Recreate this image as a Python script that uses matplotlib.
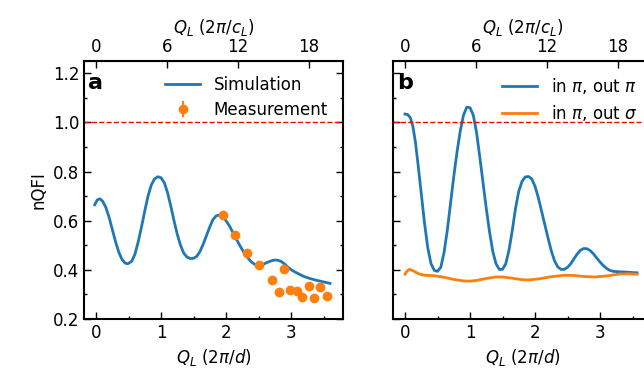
import matplotlib
matplotlib.use('Agg')
import matplotlib.pyplot as plt
from matplotlib.ticker import MultipleLocator

BLUE = '#1f77b4'
ORANGE = '#ff7f0e'
C_RATIO = 5.5   # c_L / d, top axis in units of 2pi/c_L

# panel a: simulation curve (Q_L in 2pi/d, nQFI)
sim_q = [-0.02, 0.02, 0.06, 0.10, 0.15, 0.20, 0.25, 0.30, 0.35, 0.40, 0.45, 0.49,
         0.55, 0.60, 0.65, 0.70, 0.75, 0.80, 0.85, 0.90, 0.95, 1.00, 1.05, 1.10,
         1.15, 1.20, 1.25, 1.30, 1.35, 1.40, 1.45, 1.50, 1.55, 1.60, 1.65, 1.70,
         1.75, 1.80, 1.85, 1.90, 1.95, 2.00, 2.05, 2.10, 2.15, 2.20, 2.25, 2.30,
         2.35, 2.40, 2.45, 2.50, 2.55, 2.60, 2.65, 2.70, 2.75, 2.80, 2.85, 2.90,
         2.95, 3.00, 3.05, 3.10, 3.20, 3.30, 3.40, 3.50, 3.60]
sim_f = [0.665, 0.685, 0.689, 0.680, 0.655, 0.615, 0.565, 0.515, 0.472, 0.442, 0.427, 0.425,
         0.435, 0.465, 0.515, 0.575, 0.640, 0.700, 0.745, 0.770, 0.779, 0.775, 0.755, 0.715,
         0.660, 0.600, 0.545, 0.500, 0.468, 0.452, 0.446, 0.447, 0.455, 0.475, 0.505, 0.540,
         0.575, 0.605, 0.620, 0.623, 0.615, 0.600, 0.580, 0.555, 0.530, 0.505, 0.482, 0.462,
         0.444, 0.430, 0.421, 0.418, 0.421, 0.426, 0.432, 0.437, 0.440, 0.439, 0.434, 0.424,
         0.412, 0.401, 0.393, 0.386, 0.373, 0.364, 0.357, 0.351, 0.345]

# panel a: measured points
meas_q = [1.96, 2.14, 2.33, 2.51, 2.70, 2.81, 2.89, 2.98, 3.09, 3.17, 3.27, 3.36, 3.45, 3.55]
meas_f = [0.622, 0.541, 0.467, 0.419, 0.357, 0.308, 0.404, 0.319, 0.312, 0.290, 0.335, 0.284, 0.330, 0.294]
meas_err = [0.01] * 14

# panel b: in pi, out pi
pp_q = [0.00, 0.04, 0.08, 0.12, 0.16, 0.20, 0.25, 0.30, 0.35, 0.40, 0.45, 0.50,
        0.55, 0.60, 0.65, 0.70, 0.75, 0.80, 0.85, 0.90, 0.95, 1.00, 1.05, 1.10,
        1.15, 1.20, 1.25, 1.30, 1.35, 1.40, 1.45, 1.50, 1.55, 1.60, 1.65, 1.70,
        1.75, 1.80, 1.85, 1.90, 1.95, 2.00, 2.05, 2.10, 2.15, 2.20, 2.25, 2.30,
        2.35, 2.40, 2.45, 2.50, 2.55, 2.60, 2.65, 2.70, 2.75, 2.80, 2.85, 2.90,
        2.95, 3.00, 3.05, 3.10, 3.15, 3.20, 3.30, 3.40, 3.50, 3.57]
pp_f = [1.034, 1.032, 1.020, 0.985, 0.920, 0.830, 0.710, 0.590, 0.490, 0.425, 0.398, 0.394,
        0.410, 0.470, 0.560, 0.670, 0.780, 0.880, 0.965, 1.030, 1.062, 1.060, 1.030, 0.960,
        0.860, 0.755, 0.650, 0.555, 0.475, 0.425, 0.402, 0.402, 0.425, 0.480, 0.560, 0.650,
        0.720, 0.760, 0.778, 0.780, 0.770, 0.740, 0.695, 0.640, 0.585, 0.530, 0.478, 0.437,
        0.412, 0.402, 0.402, 0.410, 0.425, 0.445, 0.465, 0.480, 0.487, 0.486, 0.478, 0.465,
        0.448, 0.432, 0.418, 0.406, 0.398, 0.394, 0.392, 0.391, 0.389, 0.388]

# panel b: in pi, out sigma
ps_q = [0.00, 0.03, 0.07, 0.11, 0.16, 0.22, 0.30, 0.45, 0.60, 0.75, 0.90, 1.00, 1.10, 1.25,
        1.40, 1.50, 1.65, 1.80, 1.90, 2.05, 2.25, 2.45, 2.60, 2.75, 2.92, 3.10, 3.30, 3.45, 3.57]
ps_f = [0.382, 0.395, 0.402, 0.398, 0.391, 0.383, 0.378, 0.376, 0.370, 0.361, 0.355, 0.354, 0.357, 0.365,
        0.371, 0.371, 0.366, 0.360, 0.359, 0.363, 0.372, 0.378, 0.377, 0.373, 0.371, 0.375, 0.383, 0.384, 0.382]

plt.rcParams['font.size'] = 12

fig = plt.figure(figsize=(6.44, 3.88), dpi=100)
ax_a = fig.add_axes((84/644, 1-319/388, 259/644, 258/388))
ax_b = fig.add_axes((393/644, 1-319/388, 259/644, 258/388))

ax_a.plot(sim_q, sim_f, color=BLUE, lw=2, label='Simulation')
ax_a.errorbar(meas_q, meas_f, yerr=meas_err, fmt='o', color=ORANGE, ms=6,
              elinewidth=1.5, label='Measurement')
ax_b.plot(pp_q, pp_f, color=BLUE, lw=2, label=r'in $\pi$, out $\pi$')
ax_b.plot(ps_q, ps_f, color=ORANGE, lw=2, label=r'in $\pi$, out $\sigma$')

for ax, tag in [(ax_a, 'a'), (ax_b, 'b')]:
    ax.axhline(1.0, color='red', ls='--', lw=1)
    ax.set_xlim(-0.185, 3.8)
    ax.set_ylim(0.2, 1.25)
    ax.xaxis.set_major_locator(MultipleLocator(1))
    ax.xaxis.set_minor_locator(MultipleLocator(0.5))
    ax.yaxis.set_major_locator(MultipleLocator(0.2))
    ax.yaxis.set_minor_locator(MultipleLocator(0.1))
    ax.tick_params(which='both', direction='in', left=True, right=True, width=1)
    ax.tick_params(which='major', length=5, labelsize=12)
    ax.tick_params(which='minor', length=2.5)
    for sp in ax.spines.values():
        sp.set_linewidth(1.5)
    ax.set_xlabel(r'$Q_L$ $(2\pi/d)$', fontsize=12)
    ax.text(0.015, 0.955, tag, transform=ax.transAxes, fontsize=16,
            fontweight='bold', va='top', ha='left')
    ax.legend(loc='upper right', frameon=False, fontsize=12,
              borderaxespad=0.5, handlelength=2.1, labelspacing=0.42)
    top = ax.secondary_xaxis('top', functions=(lambda x: x*C_RATIO, lambda x: x/C_RATIO))
    top.set_xticks([0, 6, 12, 18])
    top.tick_params(direction='in', length=5, width=1, labelsize=12)
    top.set_xlabel(r'$Q_L$ $(2\pi/c_L)$', fontsize=12)

ax_a.set_ylabel('nQFI', fontsize=12)
ax_b.set_yticklabels([])

fig.savefig('out.png', dpi=100)
